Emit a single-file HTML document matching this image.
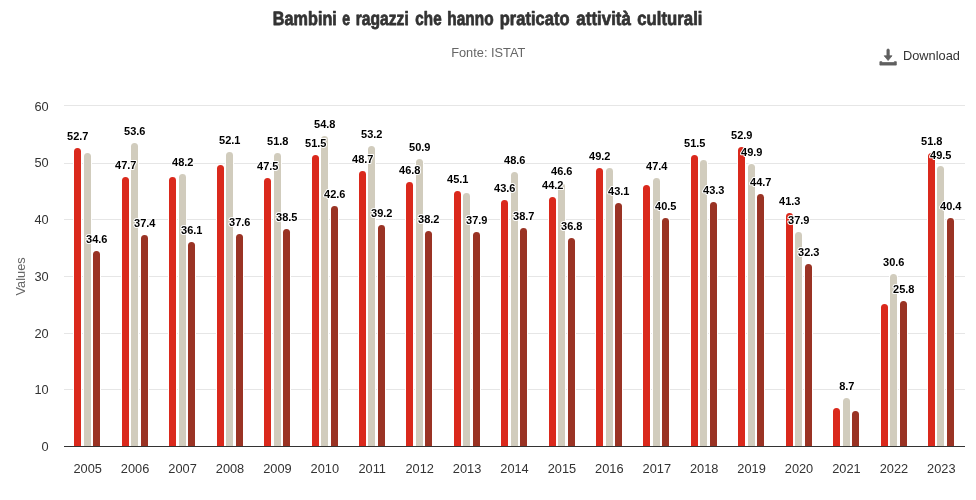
<!DOCTYPE html>
<html><head><meta charset="utf-8"><title>Bambini e ragazzi che hanno praticato attività culturali</title>
<style>
html,body{margin:0;padding:0;background:#fff;}
body{width:976px;height:500px;overflow:hidden;}
svg{display:block;font-family:"Liberation Sans",Arial,Helvetica,sans-serif;}
.dl{font-size:11px;font-weight:bold;fill:#000;text-anchor:middle;paint-order:stroke;stroke:#fff;stroke-width:2px;stroke-linejoin:round;}
.xl{font-size:12.8px;fill:#333;text-anchor:middle;}
.yl{font-size:12.8px;fill:#333;text-anchor:end;}
</style></head><body>
<svg width="976" height="500" viewBox="0 0 976 500">
<rect width="976" height="500" fill="#fff"/>

<path d="M64 105.5H965" stroke="#e6e6e6" stroke-width="1" fill="none"/>
<path d="M64 163.5H965" stroke="#e6e6e6" stroke-width="1" fill="none"/>
<path d="M64 219.5H965" stroke="#e6e6e6" stroke-width="1" fill="none"/>
<path d="M64 276.5H965" stroke="#e6e6e6" stroke-width="1" fill="none"/>
<path d="M64 333.5H965" stroke="#e6e6e6" stroke-width="1" fill="none"/>
<path d="M64 389.5H965" stroke="#e6e6e6" stroke-width="1" fill="none"/>
<path d="M73.0 446.5V151.0A4.0 4.0 0 0 1 77.0 147.0H78.0A4.0 4.0 0 0 1 82.0 151.0V446.5Z" fill="#fff"/><path d="M74.0 446.5V151.5A3.5 3.5 0 0 1 77.5 148.0H77.5A3.5 3.5 0 0 1 81.0 151.5V446.5Z" fill="#DA291C"/>
<path d="M83.0 446.5V156.0A4.0 4.0 0 0 1 87.0 152.0H88.0A4.0 4.0 0 0 1 92.0 156.0V446.5Z" fill="#fff"/><path d="M84.0 446.5V156.5A3.5 3.5 0 0 1 87.5 153.0H87.5A3.5 3.5 0 0 1 91.0 156.5V446.5Z" fill="#D1CCBD"/>
<path d="M92.0 446.5V254.0A4.0 4.0 0 0 1 96.0 250.0H97.0A4.0 4.0 0 0 1 101.0 254.0V446.5Z" fill="#fff"/><path d="M93.0 446.5V254.5A3.5 3.5 0 0 1 96.5 251.0H96.5A3.5 3.5 0 0 1 100.0 254.5V446.5Z" fill="#9A3324"/>
<path d="M121.0 446.5V180.0A4.0 4.0 0 0 1 125.0 176.0H126.0A4.0 4.0 0 0 1 130.0 180.0V446.5Z" fill="#fff"/><path d="M122.0 446.5V180.5A3.5 3.5 0 0 1 125.5 177.0H125.5A3.5 3.5 0 0 1 129.0 180.5V446.5Z" fill="#DA291C"/>
<path d="M130.0 446.5V146.0A4.0 4.0 0 0 1 134.0 142.0H135.0A4.0 4.0 0 0 1 139.0 146.0V446.5Z" fill="#fff"/><path d="M131.0 446.5V146.5A3.5 3.5 0 0 1 134.5 143.0H134.5A3.5 3.5 0 0 1 138.0 146.5V446.5Z" fill="#D1CCBD"/>
<path d="M140.0 446.5V238.0A4.0 4.0 0 0 1 144.0 234.0H145.0A4.0 4.0 0 0 1 149.0 238.0V446.5Z" fill="#fff"/><path d="M141.0 446.5V238.5A3.5 3.5 0 0 1 144.5 235.0H144.5A3.5 3.5 0 0 1 148.0 238.5V446.5Z" fill="#9A3324"/>
<path d="M168.0 446.5V180.0A4.0 4.0 0 0 1 172.0 176.0H173.0A4.0 4.0 0 0 1 177.0 180.0V446.5Z" fill="#fff"/><path d="M169.0 446.5V180.5A3.5 3.5 0 0 1 172.5 177.0H172.5A3.5 3.5 0 0 1 176.0 180.5V446.5Z" fill="#DA291C"/>
<path d="M178.0 446.5V177.0A4.0 4.0 0 0 1 182.0 173.0H183.0A4.0 4.0 0 0 1 187.0 177.0V446.5Z" fill="#fff"/><path d="M179.0 446.5V177.5A3.5 3.5 0 0 1 182.5 174.0H182.5A3.5 3.5 0 0 1 186.0 177.5V446.5Z" fill="#D1CCBD"/>
<path d="M187.0 446.5V245.0A4.0 4.0 0 0 1 191.0 241.0H192.0A4.0 4.0 0 0 1 196.0 245.0V446.5Z" fill="#fff"/><path d="M188.0 446.5V245.5A3.5 3.5 0 0 1 191.5 242.0H191.5A3.5 3.5 0 0 1 195.0 245.5V446.5Z" fill="#9A3324"/>
<path d="M216.0 446.5V168.0A4.0 4.0 0 0 1 220.0 164.0H221.0A4.0 4.0 0 0 1 225.0 168.0V446.5Z" fill="#fff"/><path d="M217.0 446.5V168.5A3.5 3.5 0 0 1 220.5 165.0H220.5A3.5 3.5 0 0 1 224.0 168.5V446.5Z" fill="#DA291C"/>
<path d="M225.0 446.5V155.0A4.0 4.0 0 0 1 229.0 151.0H230.0A4.0 4.0 0 0 1 234.0 155.0V446.5Z" fill="#fff"/><path d="M226.0 446.5V155.5A3.5 3.5 0 0 1 229.5 152.0H229.5A3.5 3.5 0 0 1 233.0 155.5V446.5Z" fill="#D1CCBD"/>
<path d="M235.0 446.5V237.0A4.0 4.0 0 0 1 239.0 233.0H240.0A4.0 4.0 0 0 1 244.0 237.0V446.5Z" fill="#fff"/><path d="M236.0 446.5V237.5A3.5 3.5 0 0 1 239.5 234.0H239.5A3.5 3.5 0 0 1 243.0 237.5V446.5Z" fill="#9A3324"/>
<path d="M263.0 446.5V181.0A4.0 4.0 0 0 1 267.0 177.0H268.0A4.0 4.0 0 0 1 272.0 181.0V446.5Z" fill="#fff"/><path d="M264.0 446.5V181.5A3.5 3.5 0 0 1 267.5 178.0H267.5A3.5 3.5 0 0 1 271.0 181.5V446.5Z" fill="#DA291C"/>
<path d="M273.0 446.5V156.0A4.0 4.0 0 0 1 277.0 152.0H278.0A4.0 4.0 0 0 1 282.0 156.0V446.5Z" fill="#fff"/><path d="M274.0 446.5V156.5A3.5 3.5 0 0 1 277.5 153.0H277.5A3.5 3.5 0 0 1 281.0 156.5V446.5Z" fill="#D1CCBD"/>
<path d="M282.0 446.5V232.0A4.0 4.0 0 0 1 286.0 228.0H287.0A4.0 4.0 0 0 1 291.0 232.0V446.5Z" fill="#fff"/><path d="M283.0 446.5V232.5A3.5 3.5 0 0 1 286.5 229.0H286.5A3.5 3.5 0 0 1 290.0 232.5V446.5Z" fill="#9A3324"/>
<path d="M311.0 446.5V158.0A4.0 4.0 0 0 1 315.0 154.0H316.0A4.0 4.0 0 0 1 320.0 158.0V446.5Z" fill="#fff"/><path d="M312.0 446.5V158.5A3.5 3.5 0 0 1 315.5 155.0H315.5A3.5 3.5 0 0 1 319.0 158.5V446.5Z" fill="#DA291C"/>
<path d="M320.0 446.5V139.0A4.0 4.0 0 0 1 324.0 135.0H325.0A4.0 4.0 0 0 1 329.0 139.0V446.5Z" fill="#fff"/><path d="M321.0 446.5V139.5A3.5 3.5 0 0 1 324.5 136.0H324.5A3.5 3.5 0 0 1 328.0 139.5V446.5Z" fill="#D1CCBD"/>
<path d="M330.0 446.5V209.0A4.0 4.0 0 0 1 334.0 205.0H335.0A4.0 4.0 0 0 1 339.0 209.0V446.5Z" fill="#fff"/><path d="M331.0 446.5V209.5A3.5 3.5 0 0 1 334.5 206.0H334.5A3.5 3.5 0 0 1 338.0 209.5V446.5Z" fill="#9A3324"/>
<path d="M358.0 446.5V174.0A4.0 4.0 0 0 1 362.0 170.0H363.0A4.0 4.0 0 0 1 367.0 174.0V446.5Z" fill="#fff"/><path d="M359.0 446.5V174.5A3.5 3.5 0 0 1 362.5 171.0H362.5A3.5 3.5 0 0 1 366.0 174.5V446.5Z" fill="#DA291C"/>
<path d="M367.0 446.5V149.0A4.0 4.0 0 0 1 371.0 145.0H372.0A4.0 4.0 0 0 1 376.0 149.0V446.5Z" fill="#fff"/><path d="M368.0 446.5V149.5A3.5 3.5 0 0 1 371.5 146.0H371.5A3.5 3.5 0 0 1 375.0 149.5V446.5Z" fill="#D1CCBD"/>
<path d="M377.0 446.5V228.0A4.0 4.0 0 0 1 381.0 224.0H382.0A4.0 4.0 0 0 1 386.0 228.0V446.5Z" fill="#fff"/><path d="M378.0 446.5V228.5A3.5 3.5 0 0 1 381.5 225.0H381.5A3.5 3.5 0 0 1 385.0 228.5V446.5Z" fill="#9A3324"/>
<path d="M405.0 446.5V185.0A4.0 4.0 0 0 1 409.0 181.0H410.0A4.0 4.0 0 0 1 414.0 185.0V446.5Z" fill="#fff"/><path d="M406.0 446.5V185.5A3.5 3.5 0 0 1 409.5 182.0H409.5A3.5 3.5 0 0 1 413.0 185.5V446.5Z" fill="#DA291C"/>
<path d="M415.0 446.5V162.0A4.0 4.0 0 0 1 419.0 158.0H420.0A4.0 4.0 0 0 1 424.0 162.0V446.5Z" fill="#fff"/><path d="M416.0 446.5V162.5A3.5 3.5 0 0 1 419.5 159.0H419.5A3.5 3.5 0 0 1 423.0 162.5V446.5Z" fill="#D1CCBD"/>
<path d="M424.0 446.5V234.0A4.0 4.0 0 0 1 428.0 230.0H429.0A4.0 4.0 0 0 1 433.0 234.0V446.5Z" fill="#fff"/><path d="M425.0 446.5V234.5A3.5 3.5 0 0 1 428.5 231.0H428.5A3.5 3.5 0 0 1 432.0 234.5V446.5Z" fill="#9A3324"/>
<path d="M453.0 446.5V194.0A4.0 4.0 0 0 1 457.0 190.0H458.0A4.0 4.0 0 0 1 462.0 194.0V446.5Z" fill="#fff"/><path d="M454.0 446.5V194.5A3.5 3.5 0 0 1 457.5 191.0H457.5A3.5 3.5 0 0 1 461.0 194.5V446.5Z" fill="#DA291C"/>
<path d="M462.0 446.5V196.0A4.0 4.0 0 0 1 466.0 192.0H467.0A4.0 4.0 0 0 1 471.0 196.0V446.5Z" fill="#fff"/><path d="M463.0 446.5V196.5A3.5 3.5 0 0 1 466.5 193.0H466.5A3.5 3.5 0 0 1 470.0 196.5V446.5Z" fill="#D1CCBD"/>
<path d="M472.0 446.5V235.0A4.0 4.0 0 0 1 476.0 231.0H477.0A4.0 4.0 0 0 1 481.0 235.0V446.5Z" fill="#fff"/><path d="M473.0 446.5V235.5A3.5 3.5 0 0 1 476.5 232.0H476.5A3.5 3.5 0 0 1 480.0 235.5V446.5Z" fill="#9A3324"/>
<path d="M500.0 446.5V203.0A4.0 4.0 0 0 1 504.0 199.0H505.0A4.0 4.0 0 0 1 509.0 203.0V446.5Z" fill="#fff"/><path d="M501.0 446.5V203.5A3.5 3.5 0 0 1 504.5 200.0H504.5A3.5 3.5 0 0 1 508.0 203.5V446.5Z" fill="#DA291C"/>
<path d="M510.0 446.5V175.0A4.0 4.0 0 0 1 514.0 171.0H515.0A4.0 4.0 0 0 1 519.0 175.0V446.5Z" fill="#fff"/><path d="M511.0 446.5V175.5A3.5 3.5 0 0 1 514.5 172.0H514.5A3.5 3.5 0 0 1 518.0 175.5V446.5Z" fill="#D1CCBD"/>
<path d="M519.0 446.5V231.0A4.0 4.0 0 0 1 523.0 227.0H524.0A4.0 4.0 0 0 1 528.0 231.0V446.5Z" fill="#fff"/><path d="M520.0 446.5V231.5A3.5 3.5 0 0 1 523.5 228.0H523.5A3.5 3.5 0 0 1 527.0 231.5V446.5Z" fill="#9A3324"/>
<path d="M548.0 446.5V200.0A4.0 4.0 0 0 1 552.0 196.0H553.0A4.0 4.0 0 0 1 557.0 200.0V446.5Z" fill="#fff"/><path d="M549.0 446.5V200.5A3.5 3.5 0 0 1 552.5 197.0H552.5A3.5 3.5 0 0 1 556.0 200.5V446.5Z" fill="#DA291C"/>
<path d="M557.0 446.5V186.0A4.0 4.0 0 0 1 561.0 182.0H562.0A4.0 4.0 0 0 1 566.0 186.0V446.5Z" fill="#fff"/><path d="M558.0 446.5V186.5A3.5 3.5 0 0 1 561.5 183.0H561.5A3.5 3.5 0 0 1 565.0 186.5V446.5Z" fill="#D1CCBD"/>
<path d="M567.0 446.5V241.0A4.0 4.0 0 0 1 571.0 237.0H572.0A4.0 4.0 0 0 1 576.0 241.0V446.5Z" fill="#fff"/><path d="M568.0 446.5V241.5A3.5 3.5 0 0 1 571.5 238.0H571.5A3.5 3.5 0 0 1 575.0 241.5V446.5Z" fill="#9A3324"/>
<path d="M595.0 446.5V171.0A4.0 4.0 0 0 1 599.0 167.0H600.0A4.0 4.0 0 0 1 604.0 171.0V446.5Z" fill="#fff"/><path d="M596.0 446.5V171.5A3.5 3.5 0 0 1 599.5 168.0H599.5A3.5 3.5 0 0 1 603.0 171.5V446.5Z" fill="#DA291C"/>
<path d="M605.0 446.5V171.0A4.0 4.0 0 0 1 609.0 167.0H610.0A4.0 4.0 0 0 1 614.0 171.0V446.5Z" fill="#fff"/><path d="M606.0 446.5V171.5A3.5 3.5 0 0 1 609.5 168.0H609.5A3.5 3.5 0 0 1 613.0 171.5V446.5Z" fill="#D1CCBD"/>
<path d="M614.0 446.5V206.0A4.0 4.0 0 0 1 618.0 202.0H619.0A4.0 4.0 0 0 1 623.0 206.0V446.5Z" fill="#fff"/><path d="M615.0 446.5V206.5A3.5 3.5 0 0 1 618.5 203.0H618.5A3.5 3.5 0 0 1 622.0 206.5V446.5Z" fill="#9A3324"/>
<path d="M642.0 446.5V188.0A4.0 4.0 0 0 1 646.0 184.0H647.0A4.0 4.0 0 0 1 651.0 188.0V446.5Z" fill="#fff"/><path d="M643.0 446.5V188.5A3.5 3.5 0 0 1 646.5 185.0H646.5A3.5 3.5 0 0 1 650.0 188.5V446.5Z" fill="#DA291C"/>
<path d="M652.0 446.5V181.0A4.0 4.0 0 0 1 656.0 177.0H657.0A4.0 4.0 0 0 1 661.0 181.0V446.5Z" fill="#fff"/><path d="M653.0 446.5V181.5A3.5 3.5 0 0 1 656.5 178.0H656.5A3.5 3.5 0 0 1 660.0 181.5V446.5Z" fill="#D1CCBD"/>
<path d="M661.0 446.5V221.0A4.0 4.0 0 0 1 665.0 217.0H666.0A4.0 4.0 0 0 1 670.0 221.0V446.5Z" fill="#fff"/><path d="M662.0 446.5V221.5A3.5 3.5 0 0 1 665.5 218.0H665.5A3.5 3.5 0 0 1 669.0 221.5V446.5Z" fill="#9A3324"/>
<path d="M690.0 446.5V158.0A4.0 4.0 0 0 1 694.0 154.0H695.0A4.0 4.0 0 0 1 699.0 158.0V446.5Z" fill="#fff"/><path d="M691.0 446.5V158.5A3.5 3.5 0 0 1 694.5 155.0H694.5A3.5 3.5 0 0 1 698.0 158.5V446.5Z" fill="#DA291C"/>
<path d="M699.0 446.5V163.0A4.0 4.0 0 0 1 703.0 159.0H704.0A4.0 4.0 0 0 1 708.0 163.0V446.5Z" fill="#fff"/><path d="M700.0 446.5V163.5A3.5 3.5 0 0 1 703.5 160.0H703.5A3.5 3.5 0 0 1 707.0 163.5V446.5Z" fill="#D1CCBD"/>
<path d="M709.0 446.5V205.0A4.0 4.0 0 0 1 713.0 201.0H714.0A4.0 4.0 0 0 1 718.0 205.0V446.5Z" fill="#fff"/><path d="M710.0 446.5V205.5A3.5 3.5 0 0 1 713.5 202.0H713.5A3.5 3.5 0 0 1 717.0 205.5V446.5Z" fill="#9A3324"/>
<path d="M737.0 446.5V150.0A4.0 4.0 0 0 1 741.0 146.0H742.0A4.0 4.0 0 0 1 746.0 150.0V446.5Z" fill="#fff"/><path d="M738.0 446.5V150.5A3.5 3.5 0 0 1 741.5 147.0H741.5A3.5 3.5 0 0 1 745.0 150.5V446.5Z" fill="#DA291C"/>
<path d="M747.0 446.5V167.0A4.0 4.0 0 0 1 751.0 163.0H752.0A4.0 4.0 0 0 1 756.0 167.0V446.5Z" fill="#fff"/><path d="M748.0 446.5V167.5A3.5 3.5 0 0 1 751.5 164.0H751.5A3.5 3.5 0 0 1 755.0 167.5V446.5Z" fill="#D1CCBD"/>
<path d="M756.0 446.5V197.0A4.0 4.0 0 0 1 760.0 193.0H761.0A4.0 4.0 0 0 1 765.0 197.0V446.5Z" fill="#fff"/><path d="M757.0 446.5V197.5A3.5 3.5 0 0 1 760.5 194.0H760.5A3.5 3.5 0 0 1 764.0 197.5V446.5Z" fill="#9A3324"/>
<path d="M785.0 446.5V216.0A4.0 4.0 0 0 1 789.0 212.0H790.0A4.0 4.0 0 0 1 794.0 216.0V446.5Z" fill="#fff"/><path d="M786.0 446.5V216.5A3.5 3.5 0 0 1 789.5 213.0H789.5A3.5 3.5 0 0 1 793.0 216.5V446.5Z" fill="#DA291C"/>
<path d="M794.0 446.5V235.0A4.0 4.0 0 0 1 798.0 231.0H799.0A4.0 4.0 0 0 1 803.0 235.0V446.5Z" fill="#fff"/><path d="M795.0 446.5V235.5A3.5 3.5 0 0 1 798.5 232.0H798.5A3.5 3.5 0 0 1 802.0 235.5V446.5Z" fill="#D1CCBD"/>
<path d="M804.0 446.5V267.0A4.0 4.0 0 0 1 808.0 263.0H809.0A4.0 4.0 0 0 1 813.0 267.0V446.5Z" fill="#fff"/><path d="M805.0 446.5V267.5A3.5 3.5 0 0 1 808.5 264.0H808.5A3.5 3.5 0 0 1 812.0 267.5V446.5Z" fill="#9A3324"/>
<path d="M832.0 446.5V411.0A4.0 4.0 0 0 1 836.0 407.0H837.0A4.0 4.0 0 0 1 841.0 411.0V446.5Z" fill="#fff"/><path d="M833.0 446.5V411.5A3.5 3.5 0 0 1 836.5 408.0H836.5A3.5 3.5 0 0 1 840.0 411.5V446.5Z" fill="#DA291C"/>
<path d="M842.0 446.5V401.0A4.0 4.0 0 0 1 846.0 397.0H847.0A4.0 4.0 0 0 1 851.0 401.0V446.5Z" fill="#fff"/><path d="M843.0 446.5V401.5A3.5 3.5 0 0 1 846.5 398.0H846.5A3.5 3.5 0 0 1 850.0 401.5V446.5Z" fill="#D1CCBD"/>
<path d="M851.0 446.5V414.0A4.0 4.0 0 0 1 855.0 410.0H856.0A4.0 4.0 0 0 1 860.0 414.0V446.5Z" fill="#fff"/><path d="M852.0 446.5V414.5A3.5 3.5 0 0 1 855.5 411.0H855.5A3.5 3.5 0 0 1 859.0 414.5V446.5Z" fill="#9A3324"/>
<path d="M880.0 446.5V307.0A4.0 4.0 0 0 1 884.0 303.0H885.0A4.0 4.0 0 0 1 889.0 307.0V446.5Z" fill="#fff"/><path d="M881.0 446.5V307.5A3.5 3.5 0 0 1 884.5 304.0H884.5A3.5 3.5 0 0 1 888.0 307.5V446.5Z" fill="#DA291C"/>
<path d="M889.0 446.5V277.0A4.0 4.0 0 0 1 893.0 273.0H894.0A4.0 4.0 0 0 1 898.0 277.0V446.5Z" fill="#fff"/><path d="M890.0 446.5V277.5A3.5 3.5 0 0 1 893.5 274.0H893.5A3.5 3.5 0 0 1 897.0 277.5V446.5Z" fill="#D1CCBD"/>
<path d="M899.0 446.5V304.0A4.0 4.0 0 0 1 903.0 300.0H904.0A4.0 4.0 0 0 1 908.0 304.0V446.5Z" fill="#fff"/><path d="M900.0 446.5V304.5A3.5 3.5 0 0 1 903.5 301.0H903.5A3.5 3.5 0 0 1 907.0 304.5V446.5Z" fill="#9A3324"/>
<path d="M927.0 446.5V156.0A4.0 4.0 0 0 1 931.0 152.0H932.0A4.0 4.0 0 0 1 936.0 156.0V446.5Z" fill="#fff"/><path d="M928.0 446.5V156.5A3.5 3.5 0 0 1 931.5 153.0H931.5A3.5 3.5 0 0 1 935.0 156.5V446.5Z" fill="#DA291C"/>
<path d="M936.0 446.5V169.0A4.0 4.0 0 0 1 940.0 165.0H941.0A4.0 4.0 0 0 1 945.0 169.0V446.5Z" fill="#fff"/><path d="M937.0 446.5V169.5A3.5 3.5 0 0 1 940.5 166.0H940.5A3.5 3.5 0 0 1 944.0 169.5V446.5Z" fill="#D1CCBD"/>
<path d="M946.0 446.5V221.0A4.0 4.0 0 0 1 950.0 217.0H951.0A4.0 4.0 0 0 1 955.0 221.0V446.5Z" fill="#fff"/><path d="M947.0 446.5V221.5A3.5 3.5 0 0 1 950.5 218.0H950.5A3.5 3.5 0 0 1 954.0 221.5V446.5Z" fill="#9A3324"/>
<path d="M64 446.5H965" stroke="#333" stroke-width="1" fill="none"/>
<text class="dl" x="77.8" y="140.0">52.7</text>
<text class="dl" x="96.8" y="243.0">34.6</text>
<text class="dl" x="125.8" y="169.0">47.7</text>
<text class="dl" x="134.8" y="135.0">53.6</text>
<text class="dl" x="144.8" y="227.0">37.4</text>
<text class="dl" x="182.8" y="166.0">48.2</text>
<text class="dl" x="191.8" y="234.0">36.1</text>
<text class="dl" x="229.8" y="144.0">52.1</text>
<text class="dl" x="239.8" y="226.0">37.6</text>
<text class="dl" x="267.8" y="170.0">47.5</text>
<text class="dl" x="277.8" y="145.0">51.8</text>
<text class="dl" x="286.8" y="221.0">38.5</text>
<text class="dl" x="315.8" y="147.0">51.5</text>
<text class="dl" x="324.8" y="128.0">54.8</text>
<text class="dl" x="334.8" y="198.0">42.6</text>
<text class="dl" x="362.8" y="163.0">48.7</text>
<text class="dl" x="371.8" y="138.0">53.2</text>
<text class="dl" x="381.8" y="217.0">39.2</text>
<text class="dl" x="409.8" y="174.0">46.8</text>
<text class="dl" x="419.8" y="151.0">50.9</text>
<text class="dl" x="428.8" y="223.0">38.2</text>
<text class="dl" x="457.8" y="183.0">45.1</text>
<text class="dl" x="476.8" y="224.0">37.9</text>
<text class="dl" x="504.8" y="192.0">43.6</text>
<text class="dl" x="514.8" y="164.0">48.6</text>
<text class="dl" x="523.8" y="220.0">38.7</text>
<text class="dl" x="552.8" y="189.0">44.2</text>
<text class="dl" x="561.8" y="175.0">46.6</text>
<text class="dl" x="571.8" y="230.0">36.8</text>
<text class="dl" x="599.8" y="160.0">49.2</text>
<text class="dl" x="618.8" y="195.0">43.1</text>
<text class="dl" x="656.8" y="170.0">47.4</text>
<text class="dl" x="665.8" y="210.0">40.5</text>
<text class="dl" x="694.8" y="147.0">51.5</text>
<text class="dl" x="713.8" y="194.0">43.3</text>
<text class="dl" x="741.8" y="139.0">52.9</text>
<text class="dl" x="751.8" y="156.0">49.9</text>
<text class="dl" x="760.8" y="186.0">44.7</text>
<text class="dl" x="789.8" y="205.0">41.3</text>
<text class="dl" x="798.8" y="224.0">37.9</text>
<text class="dl" x="808.8" y="256.0">32.3</text>
<text class="dl" x="846.8" y="390.0">8.7</text>
<text class="dl" x="893.8" y="266.0">30.6</text>
<text class="dl" x="903.8" y="293.0">25.8</text>
<text class="dl" x="931.8" y="145.0">51.8</text>
<text class="dl" x="940.8" y="159.0">49.5</text>
<text class="dl" x="950.8" y="210.0">40.4</text>
<text class="xl" x="87.7" y="473">2005</text>
<text class="xl" x="135.1" y="473">2006</text>
<text class="xl" x="182.6" y="473">2007</text>
<text class="xl" x="230.0" y="473">2008</text>
<text class="xl" x="277.4" y="473">2009</text>
<text class="xl" x="324.8" y="473">2010</text>
<text class="xl" x="372.2" y="473">2011</text>
<text class="xl" x="419.7" y="473">2012</text>
<text class="xl" x="467.1" y="473">2013</text>
<text class="xl" x="514.5" y="473">2014</text>
<text class="xl" x="561.9" y="473">2015</text>
<text class="xl" x="609.3" y="473">2016</text>
<text class="xl" x="656.8" y="473">2017</text>
<text class="xl" x="704.2" y="473">2018</text>
<text class="xl" x="751.6" y="473">2019</text>
<text class="xl" x="799.0" y="473">2020</text>
<text class="xl" x="846.4" y="473">2021</text>
<text class="xl" x="893.9" y="473">2022</text>
<text class="xl" x="941.3" y="473">2023</text>
<text class="yl" x="48.7" y="111.2">60</text>
<text class="yl" x="48.7" y="167.4">50</text>
<text class="yl" x="48.7" y="224">40</text>
<text class="yl" x="48.7" y="281">30</text>
<text class="yl" x="48.7" y="337.7">20</text>
<text class="yl" x="48.7" y="394.3">10</text>
<text class="yl" x="48.7" y="450.8">0</text>
<text x="24.7" y="276.4" font-size="12.8" fill="#666" text-anchor="middle" transform="rotate(-90 24.7 276.4)">Values</text>
<g font-size="19.3" font-weight="bold" fill="#333" stroke="#333" stroke-width="0.7" stroke-linejoin="round" vector-effect="non-scaling-stroke">
<text vector-effect="non-scaling-stroke" transform="translate(272.84 24.95) skewX(0.3) scale(0.8414 1)">Bambini</text>
<text vector-effect="non-scaling-stroke" transform="translate(342.35 24.95) skewX(0.3) scale(0.7348 1)">e</text>
<text vector-effect="non-scaling-stroke" transform="translate(355.67 24.95) skewX(0.3) scale(0.8126 1)">ragazzi</text>
<text vector-effect="non-scaling-stroke" transform="translate(415.35 24.95) skewX(0.3) scale(0.7906 1)">che</text>
<text vector-effect="non-scaling-stroke" transform="translate(447.33 24.95) skewX(0.3) scale(0.7988 1)">hanno</text>
<text vector-effect="non-scaling-stroke" transform="translate(499.77 24.95) skewX(0.3) scale(0.8564 1)">praticato</text>
<text vector-effect="non-scaling-stroke" transform="translate(576.35 24.95) skewX(0.3) scale(0.8770 1)">attività</text>
<text vector-effect="non-scaling-stroke" transform="translate(637.25 24.95) skewX(0.3) scale(0.8694 1)">culturali</text>
</g>
<text x="488.3" y="56.8" font-size="12.8" fill="#666" text-anchor="middle">Fonte: ISTAT</text>
<g fill="#606060" stroke="#606060" stroke-width="0.8" stroke-linejoin="round"><rect x="886.95" y="49.1" width="2.3" height="8" rx="0.9"/><path d="M884.2 55.8H892L888.1 60.5Z"/><path d="M879.9 61.7h2v0.9h12.4v-0.9h2v3.4h-16.4z"/></g>
<text x="903" y="59.8" font-size="12.8" fill="#333">Download</text>
</svg></body></html>
